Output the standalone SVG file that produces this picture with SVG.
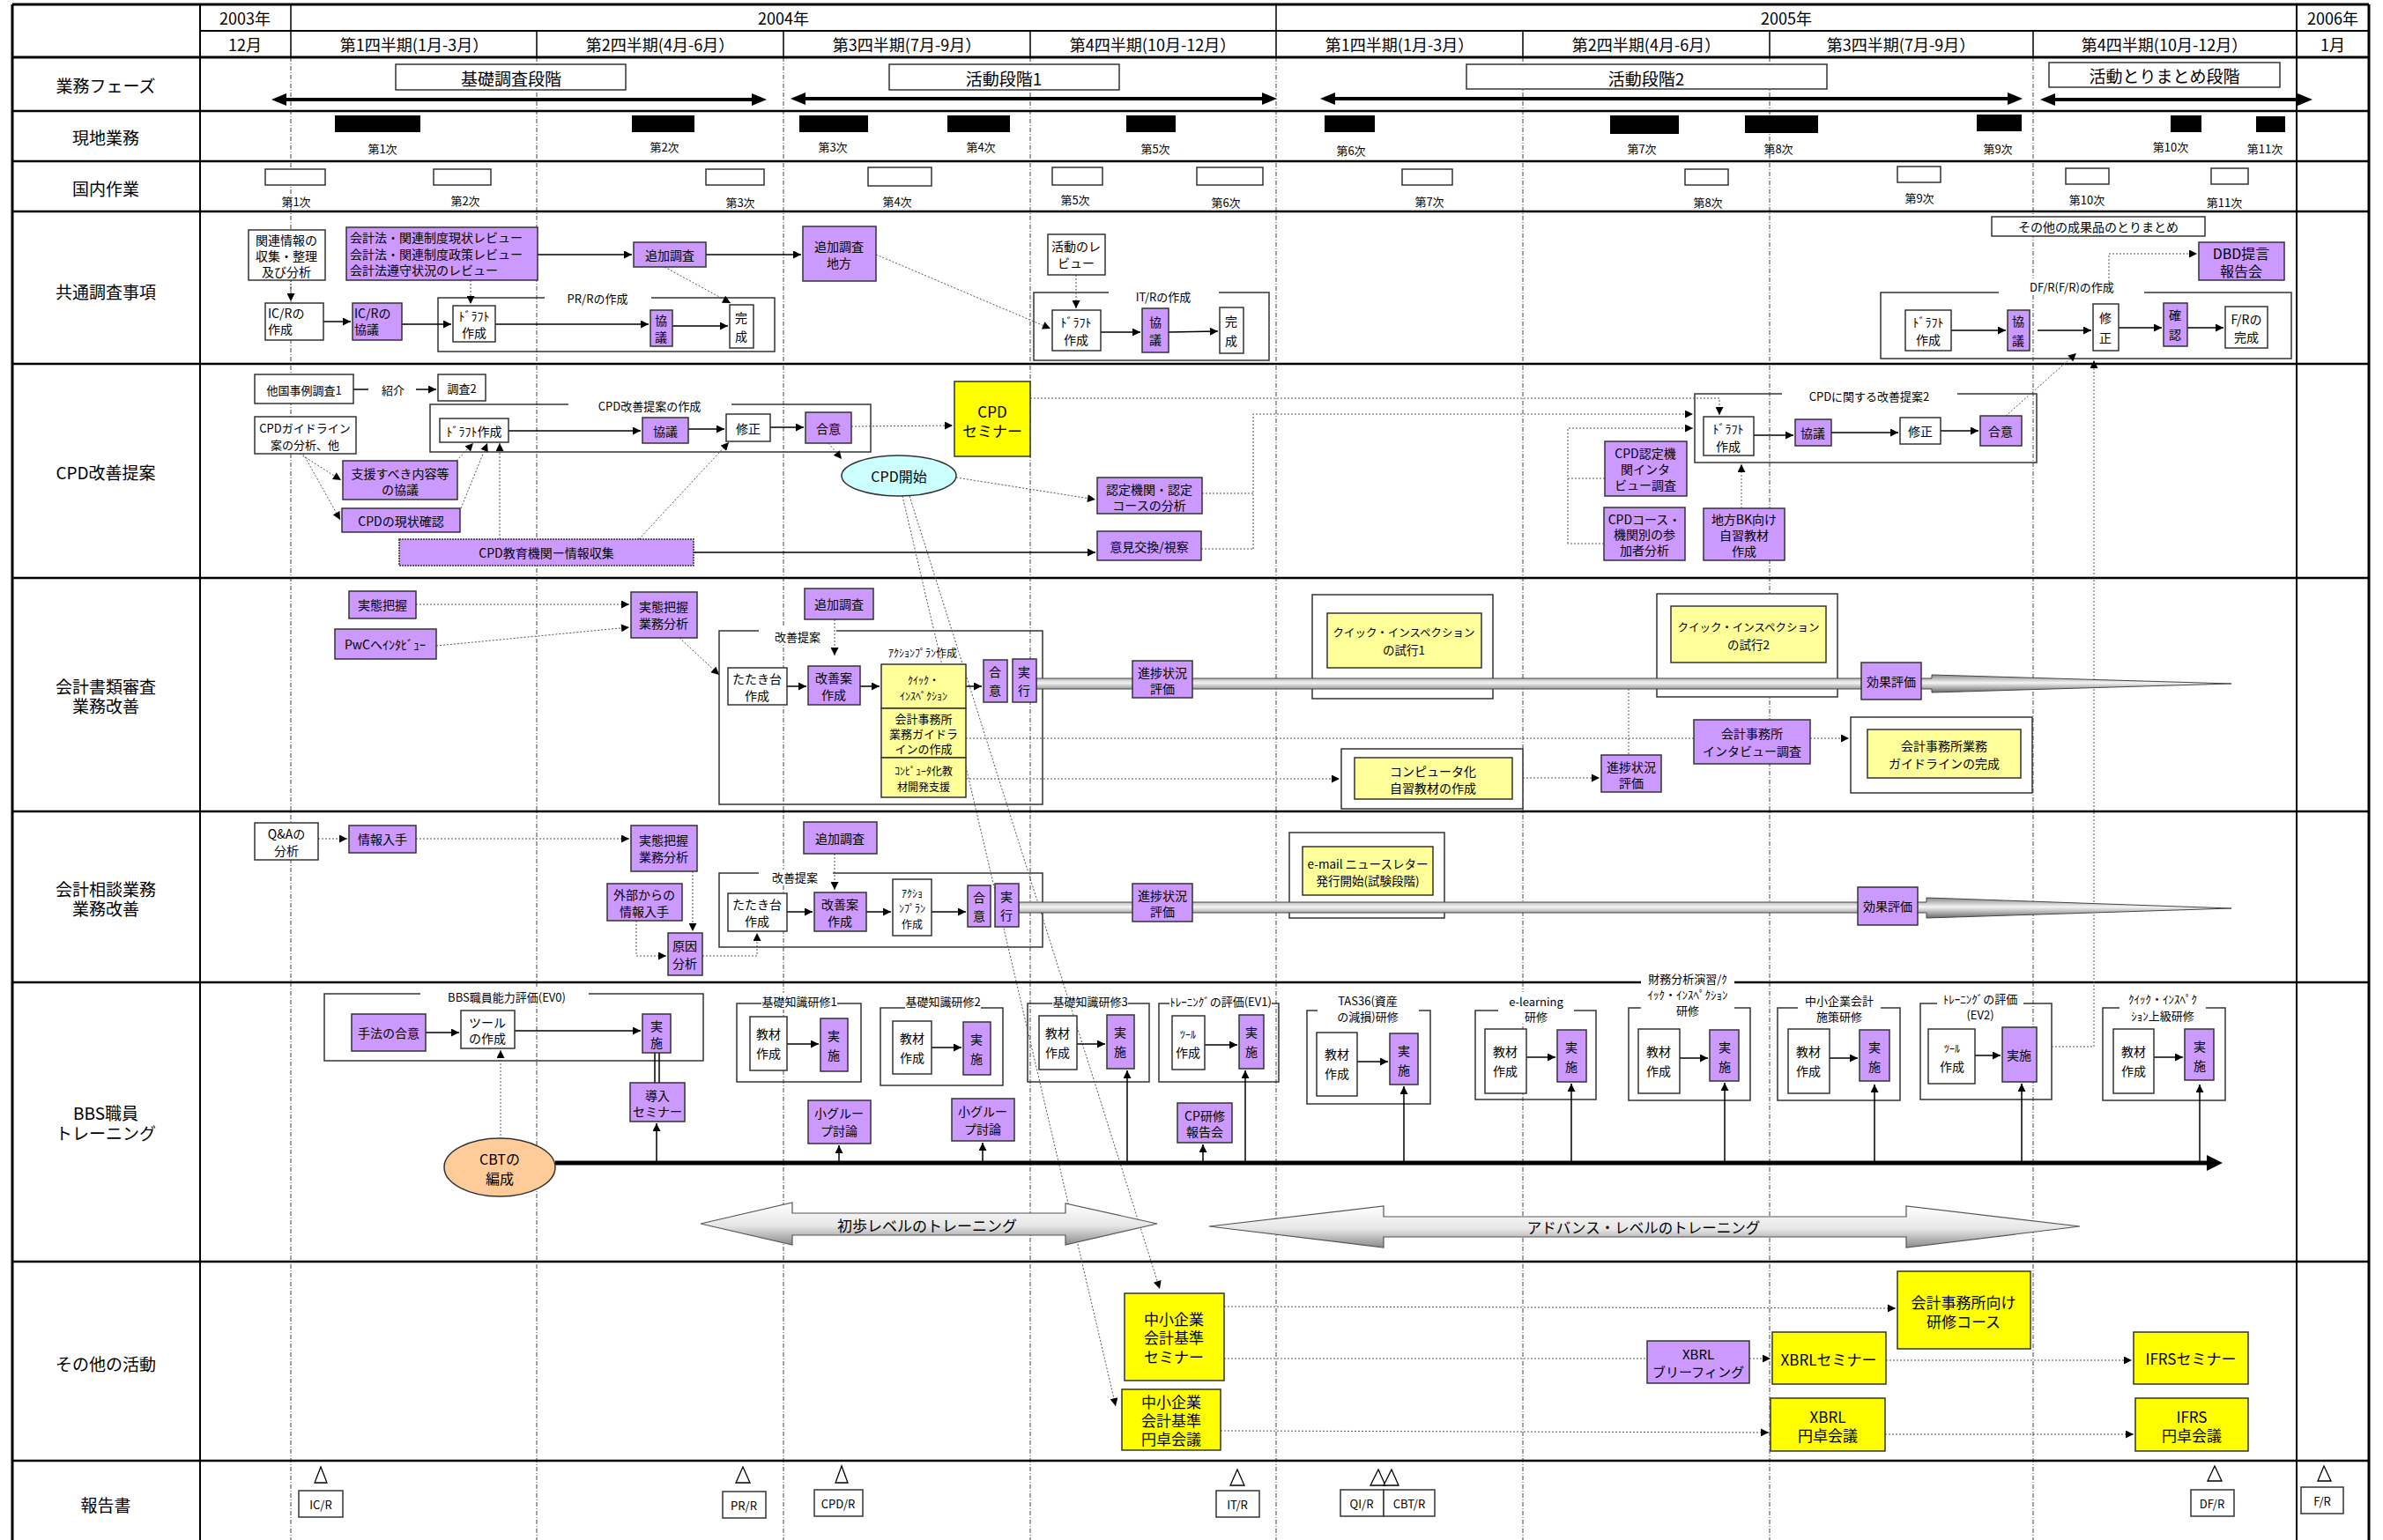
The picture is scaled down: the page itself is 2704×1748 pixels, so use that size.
<svg xmlns="http://www.w3.org/2000/svg" width="2704" height="1748" viewBox="0 0 2704 1748">
<style>
text{font-family:"Noto Sans CJK JP","Liberation Sans",sans-serif;text-anchor:middle;dominant-baseline:central;fill:#000;font-size:14px}
.h{font-size:18px}.ph{font-size:19px}.r{font-size:19px}.lg{font-size:17px}.sm{font-size:13px}.xs{font-size:12px}.L{text-anchor:start}
.p{fill:#cc99ff;stroke:#333;stroke-width:1.5}
.w{fill:#fff;stroke:#333;stroke-width:1.5}
.y{fill:#ffff00;stroke:#333;stroke-width:1.5}
.ly{fill:#ffff99;stroke:#333;stroke-width:1.5}
.fr{fill:none;stroke:#333;stroke-width:1.5}
.bg{fill:#fff;stroke:none}
.g{stroke:#444;stroke-width:1;stroke-dasharray:5 2 1 2;fill:none}
.c{stroke:#000;stroke-width:1.5;fill:none}
.d{stroke:#555;stroke-width:1;stroke-dasharray:2 2;fill:none}
.tri{fill:#fff;stroke:#000;stroke-width:1.3}
</style>
<defs>
<marker id="ah" viewBox="0 0 10 10" refX="10" refY="5" markerWidth="10" markerHeight="9" markerUnits="userSpaceOnUse" orient="auto"><path d="M0,0 L10,5 L0,10 z" fill="#000"/></marker>
<linearGradient id="gb" x1="0" y1="0" x2="0" y2="1"><stop offset="0" stop-color="#8a8a8a"/><stop offset="0.45" stop-color="#f4f4f4"/><stop offset="1" stop-color="#6a6a6a"/></linearGradient>
<linearGradient id="gt" x1="0" y1="0" x2="0" y2="1"><stop offset="0" stop-color="#ffffff"/><stop offset="0.55" stop-color="#e6e6e6"/><stop offset="1" stop-color="#8c8c8c"/></linearGradient>
</defs>
<rect x="0" y="0" width="2704" height="1748" fill="#fff"/>

<g id="grid">
<g class="g">
<path d="M330,65V1748M609,65V1748M889,65V1748M1169,65V1748M1448,65V1748M1728,65V1748M2008,65V1748M2307,65V1748"/>
</g>
<g stroke="#000" fill="none">
<path d="M14,5H2688M14,65H2688" stroke-width="3"/>
<path d="M227,35H2688" stroke-width="2"/>
<path d="M14,126H2688M14,183H2688M14,240H2688M14,413H2688M14,656H2688M14,921H2688M14,1115H2688M14,1432H2688M14,1658H2688" stroke-width="2.5"/>
<path d="M14,5V1748M2688,5V1748" stroke-width="3"/>
<path d="M227,5V1748M2606,5V1748" stroke-width="2"/>
<path d="M330,5V65M1448,5V65M609,35V65M889,35V65M1169,35V65M1728,35V65M2008,35V65M2307,35V65" stroke-width="1.5"/>
</g>
</g>

<g id="header">
<text class="h" x="278" y="20">2003年</text>
<text class="h" x="889" y="20">2004年</text>
<text class="h" x="2027" y="20">2005年</text>
<text class="h" x="2647" y="20">2006年</text>
<text class="h" x="278" y="50">12月</text>
<text class="h" x="470" y="50">第1四半期(1月-3月）</text>
<text class="h" x="749" y="50">第2四半期(4月-6月）</text>
<text class="h" x="1029" y="50">第3四半期(7月-9月）</text>
<text class="h" x="1308" y="50">第4四半期(10月-12月）</text>
<text class="h" x="1588" y="50">第1四半期(1月-3月）</text>
<text class="h" x="1868" y="50">第2四半期(4月-6月）</text>
<text class="h" x="2157" y="50">第3四半期(7月-9月）</text>
<text class="h" x="2456" y="50">第4四半期(10月-12月）</text>
<text class="h" x="2647" y="50">1月</text>
</g>

<g id="rowlabels">
<text class="r" x="120" y="96">業務フェーズ</text>
<text class="r" x="120" y="155">現地業務</text>
<text class="r" x="120" y="213">国内作業</text>
<text class="r" x="120" y="330">共通調査事項</text>
<text class="r" x="120" y="535">CPD改善提案</text>
<text class="r" x="120" y="778">会計書類審査</text>
<text class="r" x="120" y="800">業務改善</text>
<text class="r" x="120" y="1008">会計相談業務</text>
<text class="r" x="120" y="1030">業務改善</text>
<text class="r" x="120" y="1262">BBS職員</text>
<text class="r" x="120" y="1285">トレーニング</text>
<text class="r" x="120" y="1547">その他の活動</text>
<text class="r" x="120" y="1707">報告書</text>
</g>

<g id="phases">
<g id="ph1"><rect class="w" x="449" y="73" width="261" height="29"/><text class="ph" x="580" y="88">基礎調査段階</text></g>
<g id="ph2"><rect class="w" x="1009" y="73" width="261" height="29"/><text class="ph" x="1139" y="88">活動段階1</text></g>
<g id="ph3"><rect class="w" x="1664" y="73" width="409" height="28"/><text class="ph" x="1868" y="88">活動段階2</text></g>
<g id="ph4"><rect class="w" x="2325" y="71" width="262" height="28"/><text class="ph" x="2456" y="85">活動とりまとめ段階</text></g>
<g fill="#000">
<polygon points="308,113 325,106 325,111 853,111 853,106 870,113 853,120 853,115 325,115 325,120"/>
<polygon points="897,112 914,105 914,110 1432,110 1432,105 1449,112 1432,119 1432,114 914,114 914,119"/>
<polygon points="1498,112 1515,105 1515,110 2278,110 2278,105 2295,112 2278,119 2278,114 1515,114 1515,119"/>
<polygon points="2315,113 2332,106 2332,111 2607,111 2607,106 2624,113 2607,120 2607,115 2332,115 2332,120"/>
</g>
</g>

<g id="genchi">
<g fill="#000">
<rect x="380" y="131" width="97" height="19"/><rect x="717" y="131" width="71" height="19"/><rect x="907" y="131" width="78" height="19"/><rect x="1075" y="131" width="71" height="19"/><rect x="1278" y="131" width="56" height="19"/><rect x="1503" y="131" width="57" height="19"/><rect x="1827" y="131" width="78" height="21"/><rect x="1980" y="131" width="83" height="20"/><rect x="2243" y="130" width="51" height="19"/><rect x="2463" y="131" width="35" height="19"/><rect x="2560" y="132" width="33" height="18"/>
</g>
<text class="sm" x="434" y="168">第1次</text><text class="sm" x="754" y="166">第2次</text><text class="sm" x="945" y="166">第3次</text><text class="sm" x="1113" y="166">第4次</text><text class="sm" x="1311" y="168">第5次</text><text class="sm" x="1533" y="170">第6次</text><text class="sm" x="1863" y="168">第7次</text><text class="sm" x="2018" y="168">第8次</text><text class="sm" x="2267" y="168">第9次</text><text class="sm" x="2463" y="166">第10次</text><text class="sm" x="2570" y="168">第11次</text>
</g>

<g id="kokunai">
<rect class="w" x="301" y="192" width="68" height="18"/><rect class="w" x="492" y="192" width="65" height="18"/><rect class="w" x="801" y="192" width="66" height="18"/><rect class="w" x="985" y="190" width="72" height="21"/><rect class="w" x="1194" y="190" width="57" height="20"/><rect class="w" x="1358" y="190" width="75" height="20"/><rect class="w" x="1591" y="192" width="57" height="18"/><rect class="w" x="1912" y="192" width="49" height="18"/><rect class="w" x="2153" y="189" width="49" height="18"/><rect class="w" x="2344" y="191" width="49" height="18"/><rect class="w" x="2509" y="191" width="42" height="18"/>
<text class="sm" x="336" y="228">第1次</text><text class="sm" x="528" y="227">第2次</text><text class="sm" x="840" y="229">第3次</text><text class="sm" x="1018" y="228">第4次</text><text class="sm" x="1220" y="226">第5次</text><text class="sm" x="1391" y="229">第6次</text><text class="sm" x="1622" y="228">第7次</text><text class="sm" x="1938" y="229">第8次</text><text class="sm" x="2178" y="224">第9次</text><text class="sm" x="2368" y="226">第10次</text><text class="sm" x="2524" y="229">第11次</text>
</g>

<g id="containers">
<g id="prr"><rect class="fr" x="497" y="338" width="382" height="61"/><rect class="bg" x="618" y="330" width="121" height="16"/><text class="sm" x="678" y="338">PR/Rの作成</text></g>
<g id="itr"><rect class="fr" x="1173" y="332" width="267" height="77"/><rect class="bg" x="1258" y="328" width="125" height="17"/><text class="sm" x="1320" y="336">IT/Rの作成</text></g>
<g id="dfr"><rect class="fr" x="2134" y="332" width="466" height="75"/><rect class="bg" x="2268" y="316" width="165" height="19"/><text class="sm" x="2351" y="325">DF/R(F/R)の作成</text></g>
<g id="cpdbox"><rect class="fr" x="488" y="459" width="500" height="54"/><rect class="bg" x="645" y="451" width="185" height="17"/><text class="sm" x="737" y="460">CPD改善提案の作成</text></g>
<g id="cpd2box"><rect class="fr" x="1923" y="447" width="388" height="78"/><rect class="bg" x="2022" y="440" width="199" height="17"/><text class="sm" x="2121" y="449">CPDに関する改善提案2</text></g>
<g id="kaizen1box"><rect class="fr" x="816" y="716" width="367" height="197"/><rect class="bg" x="861" y="712" width="88" height="18"/><text class="sm" x="905" y="722">改善提案</text></g>
<g id="kaizen2box"><rect class="fr" x="816" y="991" width="367" height="84"/><rect class="bg" x="861" y="987" width="84" height="18"/><text class="sm" x="902" y="995">改善提案</text></g>
<g id="ev0box"><rect class="fr" x="368" y="1128" width="430" height="76"/><rect class="bg" x="477" y="1122" width="191" height="17"/><text class="sm" x="575" y="1131">BBS職員能力評価(EV0)</text></g>
<g id="k1box"><rect class="fr" x="836" y="1139" width="141" height="89"/><rect class="bg" x="864" y="1127" width="86" height="19"/><text class="sm" x="907" y="1136">基礎知識研修1</text></g>
<g id="k2box"><rect class="fr" x="999" y="1144" width="139" height="88"/><rect class="bg" x="1027" y="1127" width="86" height="22"/><text class="sm" x="1070" y="1136">基礎知識研修2</text></g>
<g id="k3box"><rect class="fr" x="1166" y="1139" width="138" height="89"/><rect class="bg" x="1194" y="1127" width="86" height="19"/><text class="sm" x="1237" y="1136">基礎知識研修3</text></g>
<g id="ev1box"><rect class="fr" x="1315" y="1139" width="136" height="89"/><rect class="bg" x="1327" y="1127" width="116" height="19"/><text class="sm" x="1385" y="1136">ﾄﾚｰﾆﾝｸﾞの評価(EV1)</text></g>
<g id="tasbox"><rect class="fr" x="1483" y="1147" width="140" height="106"/><rect class="bg" x="1495" y="1126" width="115" height="36"/><text class="sm" x="1552" y="1135">TAS36(資産</text><text class="sm" x="1552" y="1153">の減損)研修</text></g>
<g id="elbox"><rect class="fr" x="1674" y="1147" width="137" height="101"/><rect class="bg" x="1700" y="1126" width="86" height="36"/><text class="sm" x="1743" y="1136">e-learning</text><text class="sm" x="1743" y="1153">研修</text></g>
<g id="zaimubox"><rect class="fr" x="1848" y="1144" width="138" height="105"/><rect class="bg" x="1862" y="1100" width="106" height="56"/><text class="sm" x="1915" y="1110">財務分析演習/ｸ</text><text class="sm" x="1915" y="1128">ｲｯｸ・ｲﾝｽﾍﾟｸｼｮﾝ</text><text class="sm" x="1915" y="1146">研修</text></g>
<g id="chushobox"><rect class="fr" x="2017" y="1144" width="139" height="105"/><rect class="bg" x="2040" y="1126" width="94" height="36"/><text class="sm" x="2087" y="1135">中小企業会計</text><text class="sm" x="2087" y="1153">施策研修</text></g>
<g id="ev2box"><rect class="fr" x="2179" y="1139" width="149" height="109"/><rect class="bg" x="2198" y="1124" width="98" height="36"/><text class="sm" x="2247" y="1133">ﾄﾚｰﾆﾝｸﾞの評価</text><text class="sm" x="2247" y="1151">(EV2)</text></g>
<g id="jokyubox"><rect class="fr" x="2386" y="1144" width="139" height="105"/><rect class="bg" x="2405" y="1124" width="98" height="36"/><text class="sm" x="2454" y="1133">ｸｲｯｸ・ｲﾝｽﾍﾟｸ</text><text class="sm" x="2454" y="1152">ｼｮﾝ上級研修</text></g>
<g id="shiko1"><rect class="w" x="1489" y="675" width="205" height="118"/><rect class="ly" x="1506" y="696" width="175" height="62"/><text class="xs" x="1593" y="717" style="font-size:12.5px">クイック・インスペクション</text><text style="font-size:13.5px" x="1593" y="737">の試行1</text></g>
<g id="shiko2"><rect class="w" x="1880" y="674" width="205" height="117"/><rect class="ly" x="1896" y="688" width="176" height="64"/><text style="font-size:12.5px" x="1984" y="711">クイック・インスペクション</text><text style="font-size:13.5px" x="1984" y="731">の試行2</text></g>
<g id="email"><rect class="w" x="1463" y="945" width="176" height="97"/><rect class="ly" x="1478" y="961" width="148" height="55"/><text style="font-size:13.5px" x="1552" y="980">e-mail ニュースレター</text><text style="font-size:13.5px" x="1552" y="999">発行開始(試験段階)</text></g>
</g>

<g id="connectors">
<path class="c" marker-end="url(#ah)" d="M610,289H717"/>
<path class="c" marker-end="url(#ah)" d="M801,289H909"/>
<path class="d" marker-end="url(#ah)" d="M330,318V342"/>
<path class="d" marker-end="url(#ah)" d="M534,318V345"/>
<path class="c" marker-end="url(#ah)" d="M367,365H398"/>
<path class="c" marker-end="url(#ah)" d="M456,368H512"/>
<path class="c" marker-end="url(#ah)" d="M562,368H736"/>
<path class="c" marker-end="url(#ah)" d="M763,370H826"/>
<path class="d" marker-end="url(#ah)" d="M754,303L829,344"/>
<path class="d" marker-end="url(#ah)" d="M1221,312V350"/>
<path class="c" marker-end="url(#ah)" d="M1249,377H1294"/>
<path class="c" marker-end="url(#ah)" d="M1326,377L1382,376"/>
<path class="d" marker-end="url(#ah)" d="M994,289L1192,373"/>
<path class="c" marker-end="url(#ah)" d="M2214,375H2276"/>
<path class="c" marker-end="url(#ah)" d="M2312,375H2373"/>
<path class="c" marker-end="url(#ah)" d="M2404,372H2453"/>
<path class="c" marker-end="url(#ah)" d="M2482,372H2523"/>
<path class="d" marker-end="url(#ah)" d="M2393,332V288H2493"/>
<path class="d" marker-end="url(#ah)" d="M2276,472L2356,401"/>
<path class="d" marker-end="url(#ah)" d="M2328,1188H2376V409"/>
<path class="c" d="M401,442H418"/>
<path class="c" marker-end="url(#ah)" d="M472,442H495"/>
<path class="c" marker-end="url(#ah)" d="M577,489H727"/>
<path class="c" marker-end="url(#ah)" d="M781,487H822"/>
<path class="c" marker-end="url(#ah)" d="M874,485H912"/>
<path class="d" marker-end="url(#ah)" d="M966,484L1081,483"/>
<path class="d" marker-end="url(#ah)" d="M940,503L955,521"/>
<path class="d" marker-end="url(#ah)" d="M1085,542L1243,567"/>
<path class="c" marker-end="url(#ah)" d="M787,627H1243"/>
<path class="d" marker-end="url(#ah)" d="M340,515L387,545"/>
<path class="d" marker-end="url(#ah)" d="M344,515L386,590"/>
<path class="d" marker-end="url(#ah)" d="M518,523L537,503"/>
<path class="d" marker-end="url(#ah)" d="M523,577L553,503"/>
<path class="d" marker-end="url(#ah)" d="M567,612V503"/>
<path class="d" marker-end="url(#ah)" d="M725,612L827,502"/>
<path class="d" marker-end="url(#ah)" d="M1024,563L1266,1596"/>
<path class="d" marker-end="url(#ah)" d="M1032,563L1316,1463"/>
<path class="d" marker-end="url(#ah)" d="M1169,452H1951V471"/>
<path class="d" d="M1364,560H1422M1363,623H1422"/>
<path class="d" marker-end="url(#ah)" d="M1422,623V470H1921"/>
<path class="d" d="M1821,543H1779M1820,617H1779"/>
<path class="d" marker-end="url(#ah)" d="M1779,617V486H1921"/>
<path class="c" marker-end="url(#ah)" d="M1990,494H2035"/>
<path class="c" marker-end="url(#ah)" d="M2078,491H2154"/>
<path class="c" marker-end="url(#ah)" d="M2202,489H2245"/>
<path class="d" marker-end="url(#ah)" d="M1976,577V527"/>
<path class="d" marker-end="url(#ah)" d="M472,686H714"/>
<path class="d" marker-end="url(#ah)" d="M495,733L714,712"/>
<path class="d" marker-end="url(#ah)" d="M771,724L816,766"/>
<path class="d" marker-end="url(#ah)" d="M947,703V744"/>
<path class="c" marker-end="url(#ah)" d="M893,779H915"/>
<path class="c" marker-end="url(#ah)" d="M976,779H998"/>
<path class="c" marker-end="url(#ah)" d="M1096,779H1114"/>
<path class="d" d="M1096,838H1922"/>
<path class="d" d="M1848,782V857"/>
<path class="d" marker-end="url(#ah)" d="M2054,838H2098"/>
<path class="d" marker-end="url(#ah)" d="M1096,884H1520"/>
<path class="d" marker-end="url(#ah)" d="M1728,883H1815"/>
<path class="d" marker-end="url(#ah)" d="M361,952H394"/>
<path class="d" marker-end="url(#ah)" d="M472,952H714"/>
<path class="d" marker-end="url(#ah)" d="M786,989V1057"/>
<path class="d" marker-end="url(#ah)" d="M722,1045V1085H756"/>
<path class="d" marker-end="url(#ah)" d="M797,1085H859V1059"/>
<path class="d" marker-end="url(#ah)" d="M947,969V1010"/>
<path class="c" marker-end="url(#ah)" d="M893,1035H922"/>
<path class="c" marker-end="url(#ah)" d="M983,1035H1011"/>
<path class="c" marker-end="url(#ah)" d="M1057,1035H1096"/>
<path class="c" marker-end="url(#ah)" d="M483,1172H521"/>
<path class="c" marker-end="url(#ah)" d="M584,1170H727"/>
<path class="c" d="M743,1195V1229M748,1195V1229"/>
<path class="c" marker-end="url(#ah)" d="M745,1318V1275"/>
<path class="d" marker-end="url(#ah)" d="M568,1293V1192"/>
<path class="c" marker-end="url(#ah)" d="M893,1185H929"/>
<path class="c" marker-end="url(#ah)" d="M1057,1189H1091"/>
<path class="c" marker-end="url(#ah)" d="M1222,1185H1254"/>
<path class="c" marker-end="url(#ah)" d="M1367,1186H1404"/>
<path class="c" marker-end="url(#ah)" d="M1540,1205H1575"/>
<path class="c" marker-end="url(#ah)" d="M1732,1200H1765"/>
<path class="c" marker-end="url(#ah)" d="M1906,1201H1938"/>
<path class="c" marker-end="url(#ah)" d="M2076,1201H2108"/>
<path class="c" marker-end="url(#ah)" d="M2241,1198H2270"/>
<path class="c" marker-end="url(#ah)" d="M2444,1200H2477"/>
<path class="c" marker-end="url(#ah)" d="M952,1318V1300"/>
<path class="c" marker-end="url(#ah)" d="M1115,1318V1297"/>
<path class="c" marker-end="url(#ah)" d="M1279,1318V1215"/>
<path class="c" marker-end="url(#ah)" d="M1365,1318V1299"/>
<path class="c" marker-end="url(#ah)" d="M1413,1318V1215"/>
<path class="c" marker-end="url(#ah)" d="M1593,1318V1233"/>
<path class="c" marker-end="url(#ah)" d="M1783,1318V1230"/>
<path class="c" marker-end="url(#ah)" d="M1957,1318V1229"/>
<path class="c" marker-end="url(#ah)" d="M2127,1318V1231"/>
<path class="c" marker-end="url(#ah)" d="M2294,1318V1230"/>
<path class="c" marker-end="url(#ah)" d="M2496,1318V1231"/>
<path d="M630,1320H2506" stroke="#000" stroke-width="5"/>
<polygon points="2504,1311 2522,1320 2504,1329" fill="#000"/>
<path class="d" marker-end="url(#ah)" d="M1389,1483L2151,1485"/>
<path class="d" marker-end="url(#ah)" d="M1389,1542H2009"/>
<path class="d" marker-end="url(#ah)" d="M1385,1624L2007,1626"/>
<path class="d" marker-end="url(#ah)" d="M2140,1544H2419"/>
<path class="d" marker-end="url(#ah)" d="M2139,1628H2421"/>
</g>

<g id="bigarrows">
<polygon points="1176,770 2192,770 2192,766 2532,776 2192,786 2192,782 1176,782" fill="url(#gb)" stroke="#444" stroke-width="1"/>
<polygon points="1156,1024 2186,1024 2186,1019 2532,1031 2186,1042 2186,1036 1156,1036" fill="url(#gb)" stroke="#444" stroke-width="1"/>
<g id="shoho"><polygon points="795,1389 899,1365 899,1377 1209,1377 1209,1366 1313,1389 1209,1413 1209,1402 899,1402 899,1413" fill="url(#gt)" stroke="#555" stroke-width="1.2"/><text x="1052" y="1390" style="font-size:17px">初歩レベルのトレーニング</text></g>
<g id="advance"><polygon points="1372,1392 1570,1369 1570,1381 2163,1381 2163,1369 2360,1392 2163,1416 2163,1404 1570,1404 1570,1416" fill="url(#gt)" stroke="#555" stroke-width="1.2"/><text x="1865" y="1393" style="font-size:16.5px">アドバンス・レベルのトレーニング</text></g>
</g>

<g id="n_kanren"><rect class="w" x="282" y="261" width="87" height="57"/><text x="325" y="272">関連情報の</text><text x="325" y="290">収集・整理</text><text x="325" y="308">及び分析</text></g>
<g id="n_review"><rect class="p" x="393" y="258" width="217" height="60"/><text class="L" x="397" y="269">会計法・関連制度現状レビュー</text><text class="L" x="397" y="288">会計法・関連制度政策レビュー</text><text class="L" x="397" y="306">会計法遵守状況のレビュー</text></g>
<g id="n_tsuika1"><rect class="p" x="719" y="275" width="82" height="28"/><text x="760" y="289">追加調査</text></g>
<g id="n_tsuikachiho"><rect class="p" x="911" y="257" width="83" height="62"/><text x="952" y="279">追加調査</text><text x="952" y="298">地方</text></g>
<g id="n_icr1"><rect class="w" x="301" y="344" width="66" height="42"/><text class="L" x="304" y="355">IC/Rの</text><text class="L" x="304" y="373">作成</text></g>
<g id="n_icr2"><rect class="p" x="400" y="344" width="56" height="42"/><text class="L" x="402" y="355">IC/Rの</text><text class="L" x="402" y="373">協議</text></g>
<g id="n_prdraft"><rect class="w" x="514" y="347" width="48" height="41"/><text x="538" y="358">ﾄﾞﾗﾌﾄ</text><text x="538" y="377">作成</text></g>
<g id="n_prkyogi"><rect class="p" x="738" y="352" width="25" height="41"/><text x="750" y="363">協</text><text x="750" y="382">議</text></g>
<g id="n_prkansei"><rect class="w" x="828" y="346" width="27" height="49"/><text x="841" y="360">完</text><text x="841" y="381">成</text></g>
<g id="n_review2"><rect class="w" x="1189" y="266" width="65" height="46"/><text x="1221" y="279">活動のレ</text><text x="1221" y="298">ビュー</text></g>
<g id="n_itdraft"><rect class="w" x="1194" y="352" width="55" height="46"/><text x="1221" y="365">ﾄﾞﾗﾌﾄ</text><text x="1221" y="385">作成</text></g>
<g id="n_itkyogi"><rect class="p" x="1296" y="350" width="30" height="50"/><text x="1311" y="365">協</text><text x="1311" y="385">議</text></g>
<g id="n_itkansei"><rect class="w" x="1384" y="349" width="27" height="52"/><text x="1397" y="364">完</text><text x="1397" y="386">成</text></g>
<g id="n_sonota"><rect class="w" x="2260" y="246" width="242" height="22"/><text x="2381" y="257">その他の成果品のとりまとめ</text></g>
<g id="n_dbd"><rect class="p" x="2495" y="275" width="97" height="43"/><text style="font-size:16px" x="2543" y="287">DBD提言</text><text style="font-size:16px" x="2543" y="307">報告会</text></g>
<g id="n_dfdraft"><rect class="w" x="2162" y="352" width="52" height="46"/><text x="2188" y="365">ﾄﾞﾗﾌﾄ</text><text x="2188" y="385">作成</text></g>
<g id="n_dfkyogi"><rect class="p" x="2278" y="352" width="25" height="46"/><text x="2290" y="364">協</text><text x="2290" y="386">議</text></g>
<g id="n_dfshusei"><rect class="w" x="2375" y="345" width="29" height="53"/><text x="2389" y="360">修</text><text x="2389" y="383">正</text></g>
<g id="n_dfkakunin"><rect class="p" x="2455" y="344" width="27" height="49"/><text x="2468" y="357">確</text><text x="2468" y="379">認</text></g>
<g id="n_dfkansei"><rect class="w" x="2525" y="348" width="48" height="47"/><text x="2549" y="362">F/Rの</text><text x="2549" y="382">完成</text></g>

<g id="n_takoku"><rect class="w" x="289" y="425" width="112" height="33"/><text class="sm" x="345" y="442">他国事例調査1</text></g>
<text class="sm" x="446" y="442">紹介</text>
<g id="n_chosa2"><rect class="w" x="497" y="425" width="54" height="30"/><text class="sm" x="524" y="440">調査2</text></g>
<g id="n_cpdguide"><rect class="w" x="289" y="473" width="115" height="42"/><text class="sm" x="346" y="485">CPDガイドライン</text><text class="sm" x="346" y="504">案の分析、他</text></g>
<g id="n_cpddraft"><rect class="w" x="499" y="475" width="78" height="27"/><text x="538" y="489">ﾄﾞﾗﾌﾄ作成</text></g>
<g id="n_cpdkyogi"><rect class="p" x="729" y="474" width="52" height="29"/><text x="755" y="489">協議</text></g>
<g id="n_cpdshusei"><rect class="w" x="824" y="470" width="50" height="31"/><text x="849" y="486">修正</text></g>
<g id="n_cpdgoi"><rect class="p" x="914" y="468" width="52" height="35"/><text x="940" y="486">合意</text></g>
<g id="n_cpdsem"><rect class="y" x="1083" y="433" width="86" height="85"/><text class="lg" x="1126" y="466">CPD</text><text class="lg" x="1126" y="488">セミナー</text></g>
<g id="n_cpdstart"><ellipse cx="1020" cy="540" rx="65" ry="23" fill="#ccffff" stroke="#333" stroke-width="1.5"/><text style="font-size:16px" x="1020" y="540">CPD開始</text></g>
<g id="n_nintei"><rect class="p" x="1245" y="542" width="119" height="41"/><text x="1304" y="555">認定機関・認定</text><text x="1304" y="573">コースの分析</text></g>
<g id="n_iken"><rect class="p" x="1245" y="603" width="118" height="33"/><text x="1304" y="620">意見交換/視察</text></g>
<g id="n_shien"><rect class="p" x="389" y="523" width="130" height="44"/><text x="454" y="537">支援すべき内容等</text><text x="454" y="555">の協議</text></g>
<g id="n_genjo"><rect class="p" x="388" y="577" width="134" height="27"/><text x="455" y="591">CPDの現状確認</text></g>
<g id="n_kyoiku"><rect x="453" y="612" width="334" height="30" fill="#cc99ff" stroke="#333" stroke-width="1.5" stroke-dasharray="2 1"/><text x="620" y="627">CPD教育機関ー情報収集</text></g>
<g id="n_cpd2draft"><rect class="w" x="1933" y="473" width="57" height="44"/><text x="1961" y="486">ﾄﾞﾗﾌﾄ</text><text x="1961" y="506">作成</text></g>
<g id="n_cpd2kyogi"><rect class="p" x="2037" y="476" width="41" height="30"/><text x="2057" y="491">協議</text></g>
<g id="n_cpd2shusei"><rect class="w" x="2156" y="474" width="46" height="30"/><text x="2179" y="489">修正</text></g>
<g id="n_cpd2goi"><rect class="p" x="2247" y="472" width="47" height="34"/><text x="2270" y="489">合意</text></g>
<g id="n_ninteiint"><rect class="p" x="1821" y="501" width="93" height="62"/><text x="1867" y="514">CPD認定機</text><text x="1867" y="532">関インタ</text><text x="1867" y="550">ビュー調査</text></g>
<g id="n_course"><rect class="p" x="1820" y="576" width="92" height="60"/><text x="1866" y="589">CPDコース・</text><text x="1866" y="606">機関別の参</text><text x="1866" y="624">加者分析</text></g>
<g id="n_chiho"><rect class="p" x="1933" y="577" width="92" height="59"/><text x="1979" y="589">地方BK向け</text><text x="1979" y="607">自習教材</text><text x="1979" y="625">作成</text></g>

<g id="n_jittai1"><rect class="p" x="396" y="671" width="76" height="31"/><text x="434" y="686">実態把握</text></g>
<g id="n_pwc"><rect class="p" x="380" y="714" width="115" height="34"/><text x="437" y="731">PwCへｲﾝﾀﾋﾞｭｰ</text></g>
<g id="n_bunseki1"><rect class="p" x="716" y="672" width="75" height="52"/><text x="753" y="688">実態把握</text><text x="753" y="707">業務分析</text></g>
<g id="n_tsuika2"><rect class="p" x="913" y="668" width="78" height="35"/><text x="952" y="685">追加調査</text></g>
<g id="n_tataki1"><rect class="w" x="826" y="758" width="67" height="42"/><text x="859" y="770">たたき台</text><text x="859" y="789">作成</text></g>
<g id="n_kaizen1"><rect class="p" x="917" y="756" width="59" height="44"/><text x="946" y="769">改善案</text><text x="946" y="788">作成</text></g>
<text class="xs" x="1047" y="740">ｱｸｼｮﾝﾌﾟﾗﾝ作成</text>
<g id="n_ap_qi"><rect class="ly" x="1000" y="754" width="96" height="50"/><text class="xs" x="1048" y="771">ｸｲｯｸ・</text><text class="xs" x="1048" y="789">ｲﾝｽﾍﾟｸｼｮﾝ</text></g>
<g id="n_ap_guide"><rect class="ly" x="1000" y="804" width="96" height="56"/><text class="sm" x="1048" y="815">会計事務所</text><text class="sm" x="1048" y="832">業務ガイドラ</text><text class="sm" x="1048" y="849">インの作成</text></g>
<g id="n_ap_comp"><rect class="ly" x="1000" y="860" width="96" height="45"/><text class="xs" x="1048" y="874">ｺﾝﾋﾟｭｰﾀ化教</text><text class="xs" x="1048" y="892">材開発支援</text></g>
<g id="n_goi1"><rect class="p" x="1116" y="749" width="27" height="48"/><text x="1129" y="762">合</text><text x="1129" y="783">意</text></g>
<g id="n_jikko1"><rect class="p" x="1149" y="748" width="27" height="49"/><text x="1162" y="762">実</text><text x="1162" y="783">行</text></g>
<g id="n_shincho1"><rect class="p" x="1285" y="750" width="68" height="42"/><text x="1319" y="763">進捗状況</text><text x="1319" y="781">評価</text></g>
<g id="n_koka1"><rect class="p" x="2112" y="752" width="68" height="42"/><text x="2146" y="773">効果評価</text></g>
<g id="n_interview"><rect class="p" x="1922" y="817" width="132" height="50"/><text x="1988" y="832">会計事務所</text><text x="1988" y="852">インタビュー調査</text></g>
<g id="n_guidedone"><rect class="w" x="2100" y="814" width="206" height="86"/><rect class="ly" x="2119" y="828" width="174" height="55"/><text x="2206" y="846">会計事務所業務</text><text x="2206" y="866">ガイドラインの完成</text></g>
<g id="n_comp"><rect class="w" x="1522" y="850" width="206" height="68"/><rect class="ly" x="1537" y="860" width="179" height="47"/><text x="1626" y="875">コンピュータ化</text><text x="1626" y="894">自習教材の作成</text></g>
<g id="n_shincho2"><rect class="p" x="1817" y="857" width="68" height="42"/><text x="1851" y="870">進捗状況</text><text x="1851" y="888">評価</text></g>

<g id="n_qa"><rect class="w" x="289" y="934" width="72" height="42"/><text x="325" y="946">Q&amp;Aの</text><text x="325" y="965">分析</text></g>
<g id="n_joho"><rect class="p" x="396" y="937" width="76" height="31"/><text x="434" y="952">情報入手</text></g>
<g id="n_bunseki2"><rect class="p" x="716" y="937" width="75" height="52"/><text x="753" y="953">実態把握</text><text x="753" y="972">業務分析</text></g>
<g id="n_gaibu"><rect class="p" x="689" y="1003" width="85" height="42"/><text x="731" y="1015">外部からの</text><text x="731" y="1034">情報入手</text></g>
<g id="n_genin"><rect class="p" x="758" y="1059" width="39" height="48"/><text x="777" y="1073">原因</text><text x="777" y="1093">分析</text></g>
<g id="n_tsuika3"><rect class="p" x="912" y="933" width="83" height="36"/><text x="953" y="951">追加調査</text></g>
<g id="n_tataki2"><rect class="w" x="826" y="1014" width="67" height="43"/><text x="859" y="1026">たたき台</text><text x="859" y="1045">作成</text></g>
<g id="n_kaizen2"><rect class="p" x="924" y="1013" width="59" height="44"/><text x="953" y="1026">改善案</text><text x="953" y="1045">作成</text></g>
<g id="n_ap2"><rect class="w" x="1013" y="998" width="44" height="64"/><text class="xs" x="1035" y="1013">ｱｸｼｮ</text><text class="xs" x="1035" y="1030">ﾝﾌﾟﾗﾝ</text><text class="xs" x="1035" y="1048">作成</text></g>
<g id="n_goi2"><rect class="p" x="1098" y="1005" width="26" height="47"/><text x="1111" y="1018">合</text><text x="1111" y="1039">意</text></g>
<g id="n_jikko2"><rect class="p" x="1129" y="1003" width="27" height="49"/><text x="1142" y="1017">実</text><text x="1142" y="1038">行</text></g>
<g id="n_shincho3"><rect class="p" x="1285" y="1003" width="68" height="43"/><text x="1319" y="1016">進捗状況</text><text x="1319" y="1034">評価</text></g>
<g id="n_koka2"><rect class="p" x="2108" y="1007" width="68" height="43"/><text x="2142" y="1028">効果評価</text></g>

<g id="n_shuho"><rect class="p" x="399" y="1151" width="84" height="42"/><text x="441" y="1172">手法の合意</text></g>
<g id="n_tool0"><rect class="w" x="523" y="1147" width="61" height="43"/><text x="553" y="1160">ツール</text><text x="553" y="1178">の作成</text></g>
<g id="n_jisshi0"><rect class="p" x="729" y="1151" width="32" height="44"/><text x="745" y="1164">実</text><text x="745" y="1183">施</text></g>
<g id="n_donyu"><rect class="p" x="715" y="1229" width="62" height="44"/><text x="746" y="1243">導入</text><text x="746" y="1261">セミナー</text></g>
<g id="n_cbt"><ellipse cx="567" cy="1325" rx="63" ry="33" fill="#ffcc99" stroke="#333" stroke-width="1.5"/><text style="font-size:16px" x="567" y="1315">CBTの</text><text style="font-size:16px" x="567" y="1337">編成</text></g>
<g id="n_k1"><rect class="w" x="851" y="1154" width="42" height="61"/><text x="872" y="1173">教材</text><text x="872" y="1195">作成</text><rect class="p" x="931" y="1156" width="31" height="60"/><text x="946" y="1175">実</text><text x="946" y="1197">施</text></g>
<g id="n_k2"><rect class="w" x="1013" y="1159" width="44" height="60"/><text x="1035" y="1178">教材</text><text x="1035" y="1200">作成</text><rect class="p" x="1093" y="1160" width="31" height="60"/><text x="1108" y="1179">実</text><text x="1108" y="1201">施</text></g>
<g id="n_k3"><rect class="w" x="1179" y="1153" width="43" height="61"/><text x="1200" y="1172">教材</text><text x="1200" y="1194">作成</text><rect class="p" x="1256" y="1152" width="31" height="61"/><text x="1271" y="1171">実</text><text x="1271" y="1193">施</text></g>
<g id="n_ev1"><rect class="w" x="1330" y="1153" width="37" height="61"/><text class="xs" x="1348" y="1173">ﾂｰﾙ</text><text x="1348" y="1194">作成</text><rect class="p" x="1406" y="1152" width="28" height="61"/><text x="1420" y="1171">実</text><text x="1420" y="1193">施</text></g>
<g id="n_tas"><rect class="w" x="1494" y="1172" width="46" height="72"/><text x="1517" y="1196">教材</text><text x="1517" y="1218">作成</text><rect class="p" x="1577" y="1173" width="32" height="58"/><text x="1593" y="1192">実</text><text x="1593" y="1214">施</text></g>
<g id="n_el"><rect class="w" x="1685" y="1168" width="47" height="73"/><text x="1708" y="1193">教材</text><text x="1708" y="1215">作成</text><rect class="p" x="1767" y="1169" width="33" height="59"/><text x="1783" y="1188">実</text><text x="1783" y="1210">施</text></g>
<g id="n_zaimu"><rect class="w" x="1859" y="1168" width="47" height="73"/><text x="1882" y="1193">教材</text><text x="1882" y="1215">作成</text><rect class="p" x="1940" y="1169" width="33" height="58"/><text x="1957" y="1188">実</text><text x="1957" y="1210">施</text></g>
<g id="n_chusho"><rect class="w" x="2029" y="1168" width="47" height="73"/><text x="2052" y="1193">教材</text><text x="2052" y="1215">作成</text><rect class="p" x="2110" y="1169" width="34" height="58"/><text x="2127" y="1188">実</text><text x="2127" y="1210">施</text></g>
<g id="n_ev2"><rect class="w" x="2188" y="1168" width="53" height="62"/><text class="xs" x="2215" y="1189">ﾂｰﾙ</text><text x="2215" y="1210">作成</text><rect class="p" x="2272" y="1166" width="39" height="62"/><text x="2291" y="1197">実施</text></g>
<g id="n_jokyu"><rect class="w" x="2398" y="1168" width="46" height="73"/><text x="2421" y="1193">教材</text><text x="2421" y="1215">作成</text><rect class="p" x="2479" y="1168" width="33" height="58"/><text x="2496" y="1187">実</text><text x="2496" y="1209">施</text></g>
<g id="n_sg1"><rect class="p" x="917" y="1249" width="71" height="49"/><text x="952" y="1263">小グルー</text><text x="952" y="1283">プ討論</text></g>
<g id="n_sg2"><rect class="p" x="1080" y="1247" width="71" height="48"/><text x="1115" y="1261">小グルー</text><text x="1115" y="1281">プ討論</text></g>
<g id="n_cp"><rect class="p" x="1336" y="1252" width="62" height="45"/><text x="1367" y="1266">CP研修</text><text x="1367" y="1284">報告会</text></g>

<g id="n_sem"><rect class="y" x="1276" y="1468" width="113" height="99"/><text class="lg" x="1332" y="1496">中小企業</text><text class="lg" x="1332" y="1517">会計基準</text><text class="lg" x="1332" y="1539">セミナー</text></g>
<g id="n_entaku"><rect class="y" x="1273" y="1577" width="112" height="69"/><text class="lg" x="1329" y="1590">中小企業</text><text class="lg" x="1329" y="1611">会計基準</text><text class="lg" x="1329" y="1632">円卓会議</text></g>
<g id="n_kenshu"><rect class="y" x="2153" y="1443" width="151" height="88"/><text class="lg" x="2228" y="1477">会計事務所向け</text><text class="lg" x="2228" y="1499">研修コース</text></g>
<g id="n_xbrlbrief"><rect class="p" x="1869" y="1522" width="116" height="48"/><text style="font-size:15px" x="1927" y="1536">XBRL</text><text style="font-size:15px" x="1927" y="1556">ブリーフィング</text></g>
<g id="n_xbrlsem"><rect class="y" x="2011" y="1512" width="129" height="59"/><text class="lg" x="2075" y="1542">XBRLセミナー</text></g>
<g id="n_xbrlen"><rect class="y" x="2009" y="1587" width="130" height="60"/><text class="lg" x="2074" y="1607">XBRL</text><text class="lg" x="2074" y="1628">円卓会議</text></g>
<g id="n_ifrssem"><rect class="y" x="2421" y="1512" width="130" height="59"/><text class="lg" x="2486" y="1541">IFRSセミナー</text></g>
<g id="n_ifrsen"><rect class="y" x="2423" y="1587" width="128" height="60"/><text class="lg" x="2487" y="1607">IFRS</text><text class="lg" x="2487" y="1628">円卓会議</text></g>

<g id="reports">
<polygon class="tri" points="364,1665 357,1683 371,1683"/><g id="r_icr"><rect class="w" x="339" y="1692" width="50" height="30"/><text class="sm" x="364" y="1707">IC/R</text></g>
<polygon class="tri" points="843,1665 835,1683 851,1683"/><g id="r_prr"><rect class="w" x="820" y="1693" width="49" height="30"/><text class="sm" x="844" y="1708">PR/R</text></g>
<polygon class="tri" points="955,1664 948,1683 962,1683"/><g id="r_cpdr"><rect class="w" x="924" y="1691" width="55" height="30"/><text class="sm" x="951" y="1706">CPD/R</text></g>
<polygon class="tri" points="1404,1668 1396,1686 1412,1686"/><g id="r_itr"><rect class="w" x="1380" y="1692" width="49" height="30"/><text class="sm" x="1404" y="1707">IT/R</text></g>
<polygon class="tri" points="1564,1668 1555,1686 1572,1686"/><polygon class="tri" points="1579,1668 1570,1686 1587,1686"/>
<g id="r_qir"><rect class="w" x="1521" y="1691" width="49" height="30"/><text class="sm" x="1545" y="1706">QI/R</text></g>
<g id="r_cbtr"><rect class="w" x="1570" y="1691" width="58" height="30"/><text class="sm" x="1599" y="1706">CBT/R</text></g>
<polygon class="tri" points="2513,1664 2505,1681 2521,1681"/><g id="r_dfr"><rect class="w" x="2486" y="1691" width="49" height="30"/><text class="sm" x="2510" y="1706">DF/R</text></g>
<polygon class="tri" points="2637,1664 2630,1681 2645,1681"/><g id="r_fr"><rect class="w" x="2611" y="1688" width="48" height="30"/><text class="sm" x="2635" y="1703">F/R</text></g>
</g>
</svg>
